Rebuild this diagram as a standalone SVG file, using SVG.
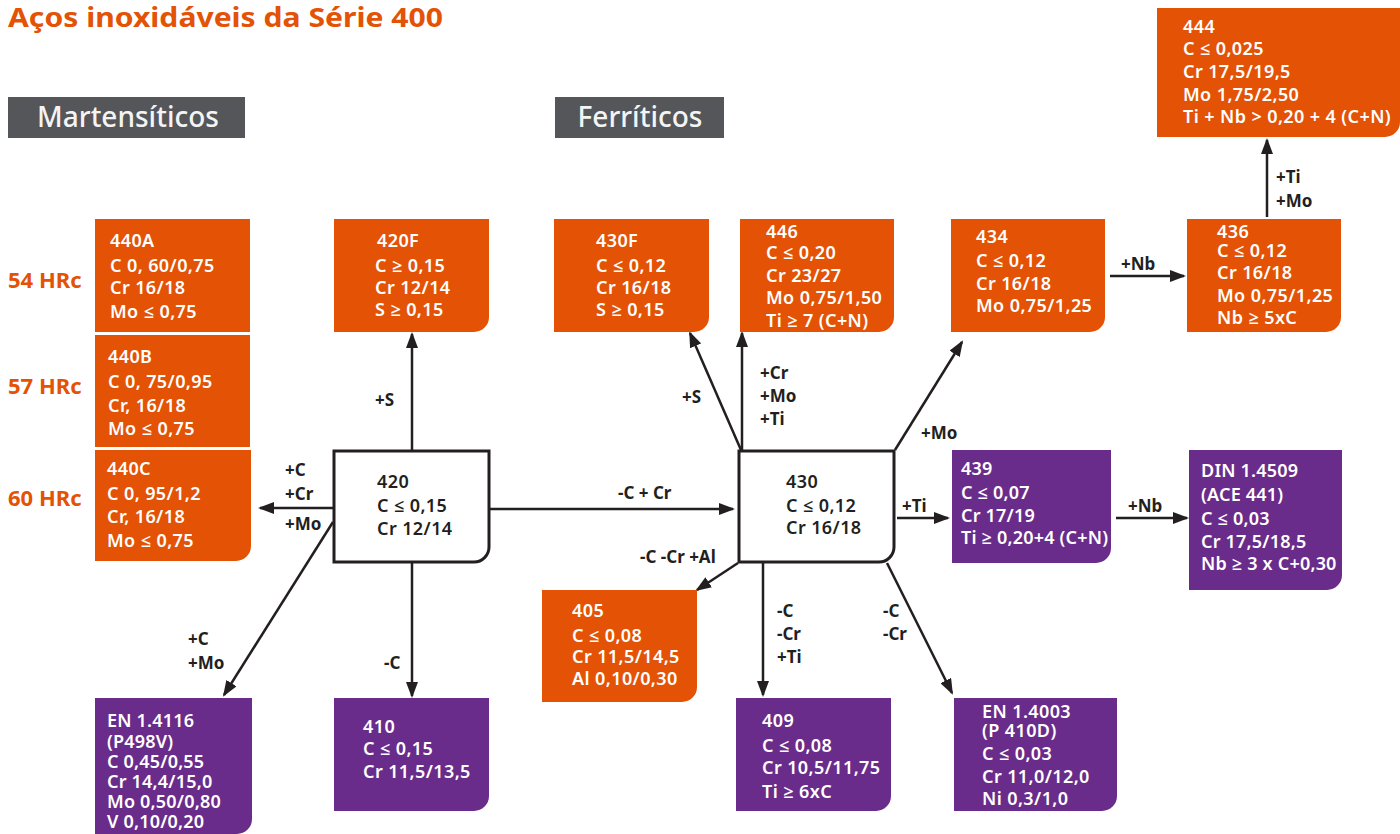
<svg xmlns="http://www.w3.org/2000/svg" width="1400" height="834" viewBox="0 0 1400 834">
<defs>
<style>
.or{fill:#E35205}
.pu{fill:#6A2C8A}
.wb{fill:#fff;stroke:#231F20;stroke-width:3}
.hd{fill:#55565A}
.t{font-family:"Noto Sans","Open Sans",sans-serif;font-weight:600;font-size:18px;letter-spacing:0.4px;fill:#fff}
.s{letter-spacing:0.2px}
.d{font-family:"Noto Sans","Open Sans",sans-serif;font-weight:600;font-size:18px;letter-spacing:0.4px;fill:#231F20}
.l{font-family:"Noto Sans","Open Sans",sans-serif;font-weight:700;font-size:17px;fill:#231F20}
.hr{font-family:"Noto Sans","Open Sans",sans-serif;font-weight:700;font-size:22px;fill:#E35205}
.ht{font-family:"Noto Sans","Open Sans",sans-serif;font-weight:500;font-size:28px;fill:#F4F4F4}
.ti{font-family:"Noto Sans","Open Sans",sans-serif;font-weight:700;font-size:26px;fill:#E35205}
.c line{stroke:#231F20;stroke-width:2.5;marker-end:url(#ah)}
</style>
<marker id="ah" markerUnits="userSpaceOnUse" markerWidth="16" markerHeight="12" refX="14" refY="6" orient="auto">
<path d="M0,0 L16,6 L0,12 Z" fill="#231F20"/>
</marker>
</defs>
<rect width="1400" height="834" fill="#fff"/>
<text class="ti" x="8" y="27" textLength="435" lengthAdjust="spacingAndGlyphs">Aços inoxidáveis da Série 400</text>
<g id="hdr-mart"><rect class="hd" x="8" y="97" width="237" height="41"/><text class="ht" x="128" y="127" text-anchor="middle">Martensíticos</text></g>
<g id="hdr-ferr"><rect class="hd" x="555" y="97" width="169" height="41"/><text class="ht" x="640" y="127" text-anchor="middle">Ferríticos</text></g>
<g id="hrc">
<text class="hr" x="8" y="288">54 HRc</text>
<text class="hr" x="8" y="394">57 HRc</text>
<text class="hr" x="8" y="506">60 HRc</text>
</g>
<g class="c" id="connectors">
<line x1="412" y1="450" x2="412" y2="334"/>
<line x1="333" y1="508" x2="260" y2="508"/>
<line x1="489" y1="509" x2="733" y2="509"/>
<line x1="412" y1="563" x2="412" y2="696"/>
<line x1="333" y1="522" x2="224" y2="695"/>
<line x1="741" y1="450" x2="690" y2="333"/>
<line x1="742" y1="450" x2="742" y2="333"/>
<line x1="895" y1="450" x2="962" y2="342"/>
<line x1="897" y1="518" x2="948" y2="518"/>
<line x1="1116" y1="518" x2="1187" y2="518"/>
<line x1="738" y1="563" x2="697" y2="590"/>
<line x1="763" y1="563" x2="763" y2="695"/>
<line x1="887" y1="563" x2="952" y2="693"/>
<line x1="1110" y1="276" x2="1184" y2="276"/>
<line x1="1267" y1="217" x2="1267" y2="140"/>
<text class="l" x="285" y="476">+C</text>
<text class="l" x="285" y="500">+Cr</text>
<text class="l" x="285" y="530">+Mo</text>
<text class="l" x="375" y="406">+S</text>
<text class="l" x="618" y="499">-C + Cr</text>
<text class="l" x="188" y="645">+C</text>
<text class="l" x="188" y="669">+Mo</text>
<text class="l" x="384" y="669">-C</text>
<text class="l" x="682" y="403">+S</text>
<text class="l" x="760" y="379">+Cr</text>
<text class="l" x="760" y="402">+Mo</text>
<text class="l" x="760" y="425">+Ti</text>
<text class="l" x="921" y="439">+Mo</text>
<text class="l" x="902" y="512">+Ti</text>
<text class="l" x="1128" y="512">+Nb</text>
<text class="l" x="1121" y="270">+Nb</text>
<text class="l" x="1276" y="183">+Ti</text>
<text class="l" x="1276" y="207">+Mo</text>
<text class="l" x="640" y="563">-C -Cr +Al</text>
<text class="l" x="777" y="617">-C</text>
<text class="l" x="777" y="640">-Cr</text>
<text class="l" x="777" y="663">+Ti</text>
<text class="l" x="883" y="617">-C</text>
<text class="l" x="883" y="640">-Cr</text>
</g>
<g id="n440A"><rect class="or" x="95" y="219" width="155" height="113"/>
<text class="t"><tspan x="110" y="247">440A</tspan><tspan x="110" y="272">C 0, 60/0,75</tspan><tspan x="110" y="294">Cr 16/18</tspan><tspan x="110" y="318">Mo ≤ 0,75</tspan></text></g>
<g id="n440B"><rect class="or" x="95" y="335" width="155" height="112"/>
<text class="t"><tspan x="108" y="363">440B</tspan><tspan x="108" y="388">C 0, 75/0,95</tspan><tspan x="108" y="412">Cr, 16/18</tspan><tspan x="108" y="435">Mo ≤ 0,75</tspan></text></g>
<g id="n440C"><path class="or" d="M95,450 H251 V546 A15,15 0 0 1 236,561 H95 Z"/>
<text class="t"><tspan x="107" y="475">440C</tspan><tspan x="107" y="500">C 0, 95/1,2</tspan><tspan x="107" y="523">Cr, 16/18</tspan><tspan x="107" y="547">Mo ≤ 0,75</tspan></text></g>
<g id="n420F"><path class="or" d="M334,219 H489 V317 A15,15 0 0 1 474,332 H334 Z"/>
<text class="t"><tspan x="377" y="247">420F</tspan><tspan x="375" y="272">C ≥ 0,15</tspan><tspan x="375" y="294">Cr 12/14</tspan><tspan x="375" y="316">S ≥ 0,15</tspan></text></g>
<g id="n430F"><path class="or" d="M554,219 H709 V317 A15,15 0 0 1 694,332 H554 Z"/>
<text class="t"><tspan x="596" y="247">430F</tspan><tspan x="596" y="272">C ≤ 0,12</tspan><tspan x="596" y="294">Cr 16/18</tspan><tspan x="596" y="316">S ≥ 0,15</tspan></text></g>
<g id="n446"><path class="or" d="M740,219 H894 V317 A15,15 0 0 1 879,332 H740 Z"/>
<text class="t"><tspan x="766" y="238">446</tspan><tspan x="766" y="259">C ≤ 0,20</tspan><tspan x="766" y="282">Cr 23/27</tspan><tspan x="766" y="304">Mo 0,75/1,50</tspan><tspan x="766" y="327">Ti ≥ 7 (C+N)</tspan></text></g>
<g id="n434"><path class="or" d="M951,219 H1105 V317 A15,15 0 0 1 1090,332 H951 Z"/>
<text class="t"><tspan x="976" y="243">434</tspan><tspan x="976" y="267">C ≤ 0,12</tspan><tspan x="976" y="290">Cr 16/18</tspan><tspan x="976" y="312">Mo 0,75/1,25</tspan></text></g>
<g id="n436"><path class="or" d="M1187,219 H1341 V317 A15,15 0 0 1 1326,332 H1187 Z"/>
<text class="t"><tspan x="1217" y="238">436</tspan><tspan x="1217" y="257">C ≤ 0,12</tspan><tspan x="1217" y="279">Cr 16/18</tspan><tspan x="1217" y="302">Mo 0,75/1,25</tspan><tspan x="1217" y="324">Nb ≥ 5xC</tspan></text></g>
<g id="n444"><path class="or" d="M1157,8 H1400 V122 A15,15 0 0 1 1385,137 H1157 Z"/>
<text class="t"><tspan x="1183" y="33">444</tspan><tspan x="1183" y="55">C ≤ 0,025</tspan><tspan x="1183" y="78">Cr 17,5/19,5</tspan><tspan x="1183" y="101">Mo 1,75/2,50</tspan><tspan x="1183" y="123">Ti + Nb &gt; 0,20 + 4 (C+N)</tspan></text></g>
<g id="n420"><path class="wb" d="M334,451 H489 V547 A15,15 0 0 1 474,562 H334 Z"/>
<text class="d"><tspan x="377" y="488">420</tspan><tspan x="377" y="512">C ≤ 0,15</tspan><tspan x="377" y="535">Cr 12/14</tspan></text></g>
<g id="n430"><path class="wb" d="M739,451 H894 V547 A15,15 0 0 1 879,562 H739 Z"/>
<text class="d"><tspan x="786" y="488">430</tspan><tspan x="786" y="512">C ≤ 0,12</tspan><tspan x="786" y="534">Cr 16/18</tspan></text></g>
<g id="n439"><path class="pu" d="M952,450 H1111 V548 A15,15 0 0 1 1096,563 H952 Z"/>
<text class="t s"><tspan x="961" y="475">439</tspan><tspan x="961" y="499">C ≤ 0,07</tspan><tspan x="961" y="522">Cr 17/19</tspan><tspan x="961" y="544">Ti ≥ 0,20+4 (C+N)</tspan></text></g>
<g id="nDIN"><path class="pu" d="M1189,450 H1342 V575 A15,15 0 0 1 1327,590 H1189 Z"/>
<text class="t s"><tspan x="1201" y="477">DIN 1.4509</tspan><tspan x="1201" y="501">(ACE 441)</tspan><tspan x="1201" y="525">C ≤ 0,03</tspan><tspan x="1201" y="548">Cr 17,5/18,5</tspan><tspan x="1201" y="570">Nb ≥ 3 x C+0,30</tspan></text></g>
<g id="n405"><path class="or" d="M542,590 H697 V687 A15,15 0 0 1 682,702 H542 Z"/>
<text class="t"><tspan x="572" y="617">405</tspan><tspan x="572" y="642">C ≤ 0,08</tspan><tspan x="572" y="663">Cr 11,5/14,5</tspan><tspan x="572" y="685">Al 0,10/0,30</tspan></text></g>
<g id="nEN4116"><path class="pu" d="M95,698 H252 V819 A15,15 0 0 1 237,834 H95 Z"/>
<text class="t s"><tspan x="107" y="727">EN 1.4116</tspan><tspan x="107" y="748">(P498V)</tspan><tspan x="107" y="768">C 0,45/0,55</tspan><tspan x="107" y="788">Cr 14,4/15,0</tspan><tspan x="107" y="808">Mo 0,50/0,80</tspan><tspan x="107" y="828">V 0,10/0,20</tspan></text></g>
<g id="n410"><path class="pu" d="M334,698 H489 V796 A15,15 0 0 1 474,811 H334 Z"/>
<text class="t"><tspan x="363" y="733">410</tspan><tspan x="363" y="755">C ≤ 0,15</tspan><tspan x="363" y="778">Cr 11,5/13,5</tspan></text></g>
<g id="n409"><path class="pu" d="M736,698 H891 V796 A15,15 0 0 1 876,811 H736 Z"/>
<text class="t"><tspan x="762" y="727">409</tspan><tspan x="762" y="752">C ≤ 0,08</tspan><tspan x="762" y="774">Cr 10,5/11,75</tspan><tspan x="762" y="798">Ti ≥ 6xC</tspan></text></g>
<g id="nEN4003"><path class="pu" d="M954,698 H1117 V796 A15,15 0 0 1 1102,811 H954 Z"/>
<text class="t"><tspan x="982" y="718">EN 1.4003</tspan><tspan x="982" y="737">(P 410D)</tspan><tspan x="982" y="760">C ≤ 0,03</tspan><tspan x="982" y="783">Cr 11,0/12,0</tspan><tspan x="982" y="805">Ni 0,3/1,0</tspan></text></g>
</svg>
